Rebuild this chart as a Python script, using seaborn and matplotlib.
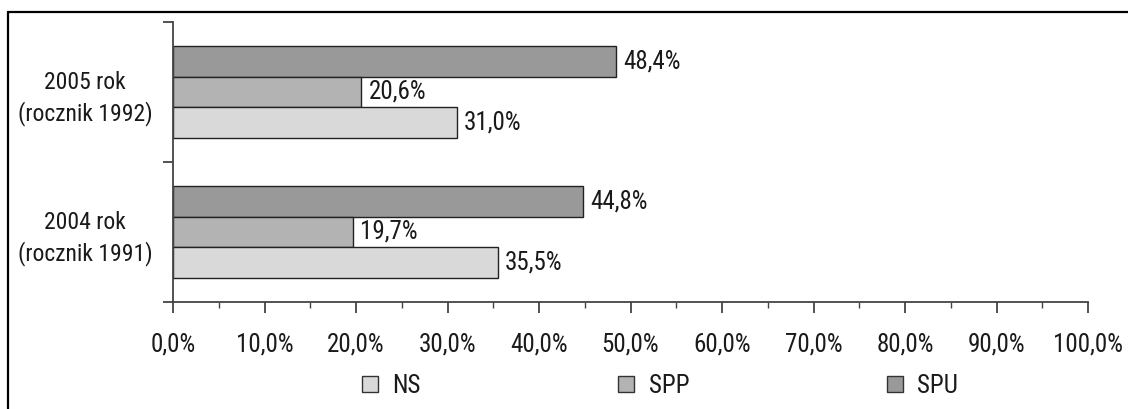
import matplotlib
matplotlib.use("Agg")
import matplotlib.pyplot as plt
from matplotlib import font_manager
from matplotlib.patches import Patch
from matplotlib.lines import Line2D
import matplotlib.ticker as mticker
import pandas as pd
import seaborn as sns

# ---- data -------------------------------------------------------------
categories = ["2005 rok\n(rocznik 1992)", "2004 rok\n(rocznik 1991)"]
series = ["NS", "SPP", "SPU"]
ns_values = [31.0, 35.5]
spp_values = [20.6, 19.7]
spu_values = [48.4, 44.8]
x_ticks = [0, 10, 20, 30, 40, 50, 60, 70, 80, 90, 100]

colors = {"NS": "#d9d9d9", "SPP": "#b3b3b3", "SPU": "#999999"}

# ---- font: prefer a narrow sans -------------------------------------
def pick_font(cands):
    for name in cands:
        try:
            font_manager.findfont(font_manager.FontProperties(family=name),
                                  fallback_to_default=False)
            return name
        except Exception:
            continue
    return "DejaVu Sans"

sns.set_style("ticks")
family = pick_font(["Liberation Sans Narrow", "DejaVu Sans Condensed", "Roboto Condensed", "Liberation Sans"])
plt.rcParams["font.family"] = [family, "DejaVu Sans"]
FS = 18
FS_CAT = 17

df = pd.DataFrame({
    "category": categories * 3,
    "series": ["NS"] * 2 + ["SPP"] * 2 + ["SPU"] * 2,
    "value": ns_values + spp_values + spu_values,
})

W, H = 1128, 409
fig = plt.figure(figsize=(W / 100, H / 100), dpi=100)
ax = fig.add_axes([173 / W, 1 - 302 / H, (1088 - 173) / W, (302 - 22) / H])

draw_order = ["SPU", "SPP", "NS"]
sns.barplot(data=df, y="category", x="value", hue="series", hue_order=draw_order,
            order=categories, palette=colors, orient="h", width=0.66, gap=0,
            edgecolor="#222222", linewidth=1.0, saturation=1, ax=ax, legend=False)

# value labels
for cont in ax.containers:
    ax.bar_label(cont, fmt=lambda v: f"{v:.1f}%".replace(".", ","),
                 padding=5, fontsize=FS, color="#1a1a1a")

# axes ranges
ax.set_xlim(0, 100)
ax.set_ylim(1.5, -0.5)
ax.set_xlabel("")
ax.set_ylabel("")

# x ticks
ax.xaxis.set_major_locator(mticker.FixedLocator(x_ticks))
ax.xaxis.set_minor_locator(mticker.MultipleLocator(5))
ax.set_xticklabels([f"{t:.1f}%".replace(".", ",") for t in x_ticks])
ax.tick_params(axis="x", which="major", length=8, width=1.3, color="#444444",
               pad=14, labelsize=FS, labelcolor="#1a1a1a")
ax.tick_params(axis="x", which="minor", length=4, width=1.0, color="#444444")

# y ticks: marks at category boundaries, labels at category centres
ax.yaxis.set_major_locator(mticker.FixedLocator([-0.5, 0.5, 1.5]))
ax.yaxis.set_major_formatter(mticker.NullFormatter())
ax.yaxis.set_minor_locator(mticker.FixedLocator([0, 1]))
ax.yaxis.set_minor_formatter(mticker.FixedFormatter(categories))
ax.tick_params(axis="y", which="major", length=7, width=1.3, color="#444444")
ax.tick_params(axis="y", which="minor", length=0, pad=15, labelsize=FS_CAT,
               labelcolor="#1a1a1a")
for lab in ax.get_yticklabels(minor=True):
    lab.set_multialignment("center")
    lab.set_linespacing(1.38)

sns.despine(ax=ax)
for side in ("left", "bottom"):
    ax.spines[side].set_color("#444444")
    ax.spines[side].set_linewidth(1.3)

# legend
handles = [Patch(facecolor=colors[s], edgecolor="#333333", linewidth=1.0) for s in series]
fig.legend(handles, series, ncol=3, loc="center left",
           bbox_to_anchor=(362 / W, 1 - 386 / H), frameon=False, fontsize=FS,
           handlelength=0.62, handleheight=0.62, handletextpad=0.6,
           columnspacing=7.9, borderpad=0, borderaxespad=0,
           labelcolor="#1a1a1a")

# outer frame (top and left edges)
fig.add_artist(Line2D([8 / W, 1], [1 - 12 / H, 1 - 12 / H], transform=fig.transFigure,
                      color="black", linewidth=1.6))
fig.add_artist(Line2D([8 / W, 8 / W], [0, 1 - 12 / H], transform=fig.transFigure,
                      color="black", linewidth=1.6))

fig.savefig("out.png", dpi=100)
